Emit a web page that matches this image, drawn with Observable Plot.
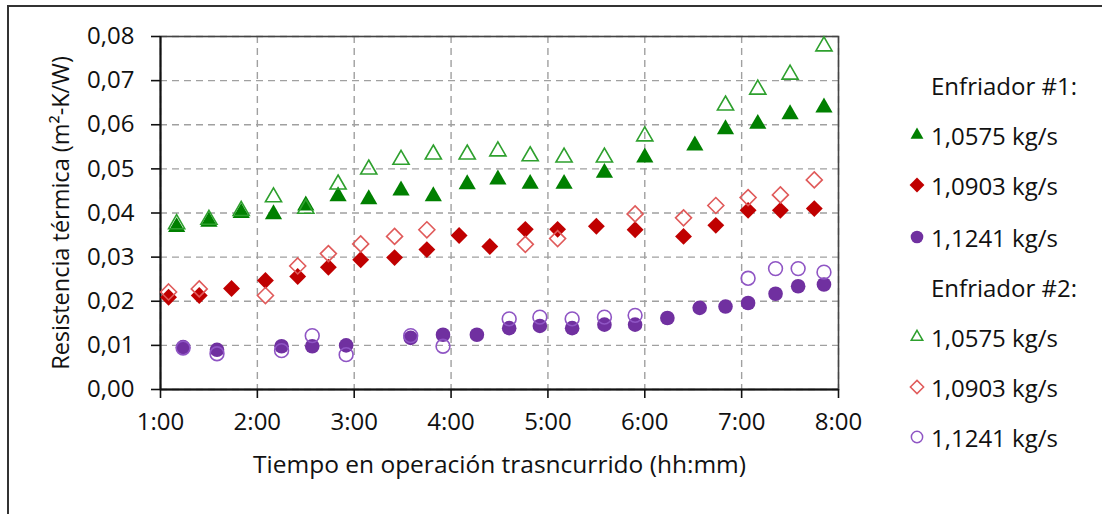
<!DOCTYPE html>
<html>
<head>
<meta charset="utf-8">
<script src="https://cdn.jsdelivr.net/npm/d3@7"></script>
<script src="https://cdn.jsdelivr.net/npm/@observablehq/plot@0.6"></script>
<style>
  html, body { margin: 0; padding: 0; background: #fff; }
  body { width: 1102px; height: 514px; overflow: hidden; position: relative; font-family: "Open Sans", sans-serif; }
  #border { position: absolute; left: 7px; top: 5px; width: 1200px; height: 700px; border: 2px solid #333; box-sizing: border-box; }
  #chart { position: absolute; left: 0; top: 0; }
  #legend { position: absolute; left: 0; top: 0; width: 1102px; height: 514px; pointer-events: none; }
  .lg-row { position: absolute; left: 907px; height: 30px; display: flex; align-items: center; font-size: 24px; color: #111; white-space: nowrap; }
  .lg-row svg { width: 20px; height: 20px; margin-right: 4px; }
  .lg-head { padding-left: 24px; }
</style>
</head>
<body>
<div id="border"></div>
<div id="chart"></div>
<div id="legend"></div>
<script>
// ---- Data (times in minutes of elapsed operation, values in m²·K/W) ----
const xTicks = [60, 120, 180, 240, 300, 360, 420, 480];
const xTickLabels = ["1:00", "2:00", "3:00", "4:00", "5:00", "6:00", "7:00", "8:00"];
const yTicks = [0, 0.01, 0.02, 0.03, 0.04, 0.05, 0.06, 0.07, 0.08];
const yTickLabels = ["0,00", "0,01", "0,02", "0,03", "0,04", "0,05", "0,06", "0,07", "0,08"];

const seriesNames = ["1,0575 kg/s", "1,0903 kg/s", "1,1241 kg/s"];
const groupNames = ["Enfriador #1:", "Enfriador #2:"];

// 1,0575 kg/s
const tA = [70, 90, 110, 130, 150, 170, 189, 209, 229, 250, 269, 289, 310, 335, 360, 391, 410, 430, 450, 471];
const rA1 = [0.0368, 0.0380, 0.0400, 0.0397, 0.0417, 0.0438, 0.0431, 0.0451, 0.0438, 0.0465, 0.0476, 0.0466, 0.0466, 0.0491, 0.0526, 0.0553, 0.0590, 0.0602, 0.0624, 0.0639];
const rA2 = [0.0375, 0.0385, 0.0405, 0.0436, 0.0410, 0.0465, 0.0499, 0.0521, 0.0533, 0.0533, 0.0540, 0.0529, 0.0526, 0.0526, 0.0574, null, 0.0644, 0.0680, 0.0714, 0.0778];

// 1,0903 kg/s
const tB = [65, 84, 104, 125, 145, 164, 184, 205, 225, 245, 264, 286, 306, 330, 354, 384, 404, 424, 444, 465];
const rB1 = [0.0209, 0.0213, 0.0229, 0.0247, 0.0256, 0.0277, 0.0294, 0.0299, 0.0317, 0.0349, 0.0324, 0.0363, 0.0363, 0.0370, 0.0362, 0.0347, 0.0372, 0.0406, 0.0406, 0.0410];
const rB2 = [0.0221, 0.0228, null, 0.0213, 0.0280, 0.0308, 0.0330, 0.0347, 0.0362, null, null, 0.0329, 0.0342, null, 0.0398, 0.0389, 0.0417, 0.0435, 0.0441, 0.0475];

// 1,1241 kg/s
const tC = [74, 95, 135, 154, 175, 215, 235, 256, 276, 295, 315, 335, 354, 374, 394, 410, 424, 441, 455, 471];
const rC1 = [0.0096, 0.0090, 0.0098, 0.0098, 0.0100, 0.0117, 0.0124, 0.0124, 0.0139, 0.0144, 0.0139, 0.0147, 0.0147, 0.0162, 0.0185, 0.0188, 0.0196, 0.0217, 0.0234, 0.0238];
const rC2 = [0.0094, 0.0081, 0.0088, 0.0122, 0.0079, 0.0122, 0.0098, null, 0.0160, 0.0164, 0.0160, 0.0164, 0.0168, null, null, null, 0.0252, 0.0274, 0.0274, 0.0266];

// ---- styles ----
const colFill = ["#008000", "#c00000", "#7030a0"];
const colOpen = ["#2ea02e", "#e05a5a", "#8f55c4"];
const symbols = ["triangle", "diamond2", "circle"];
const radii = [6.4, 7.6, 7.3];

const toRows = (t, v) => t.map((x, i) => ({x, y: v[i]})).filter(d => d.y != null);
const sets1 = [toRows(tA, rA1), toRows(tB, rB1), toRows(tC, rC1)];
const sets2 = [toRows(tA, rA2), toRows(tB, rB2), toRows(tC, rC2)];

const W = 1102, H = 514;
const ML = 160, MR = W - 838, MT = 36, MB = H - 389;
const FONT = "Open Sans";
const FS = 24;

const marks = [
  Plot.gridX(xTicks, {stroke: "#a0a0a0", strokeOpacity: 1, strokeWidth: 1.4, strokeDasharray: "7,5"}),
  Plot.gridY(yTicks, {stroke: "#a0a0a0", strokeOpacity: 1, strokeWidth: 1.4, strokeDasharray: "7,5"}),
  Plot.frame({stroke: "#444", strokeWidth: 1.6}),
  Plot.axisX(xTicks, {tickFormat: (d) => xTickLabels[xTicks.indexOf(d)], tickSize: 9, tickPadding: 14, strokeWidth: 1.6, stroke: "#111", label: null, fontSize: FS}),
  Plot.axisY(yTicks, {tickFormat: (d) => yTickLabels[yTicks.indexOf(d)], tickSize: 9, tickPadding: 17, strokeWidth: 1.6, stroke: "#111", label: null, fontSize: FS}),
  Plot.ruleY([0], {stroke: "#111", strokeWidth: 2}),
  Plot.ruleX([60], {stroke: "#111", strokeWidth: 2})
];
for (let k = 0; k < 3; k++) {
  marks.push(Plot.dot(sets1[k], {x: "x", y: "y", symbol: () => symbols[k], r: radii[k], fill: colFill[k], stroke: "none"}));
}
for (let k = 0; k < 3; k++) {
  marks.push(Plot.dot(sets2[k], {x: "x", y: "y", symbol: () => symbols[k], r: radii[k] - 0.4, fill: "none", stroke: colOpen[k], strokeWidth: 1.6}));
}
marks.push(
  Plot.text([0], {frameAnchor: "bottom", dy: 76, text: () => "Tiempo en operación trasncurrido (hh:mm)", fontSize: FS + 0.5, fill: "#111", textAnchor: "middle", lineAnchor: "middle"}),
  Plot.text([0], {frameAnchor: "left", dx: -99, rotate: -90, text: () => "Resistencia térmica (m²-K/W)", fontSize: 23.5, fill: "#111", textAnchor: "middle", lineAnchor: "middle"})
);

const chart = Plot.plot({
  width: W, height: H,
  marginLeft: ML, marginRight: MR, marginTop: MT, marginBottom: MB,
  style: {fontFamily: FONT, fontSize: FS + "px", color: "#111", background: "transparent", overflow: "visible"},
  x: {domain: [60, 480], axis: null},
  y: {domain: [0, 0.08], axis: null},
  symbol: {type: "identity"},
  marks
});
document.getElementById("chart").appendChild(chart);

// ---- legend (HTML, using d3 symbols) ----
const legend = document.getElementById("legend");
const symMap = {triangle: d3.symbolTriangle, diamond2: d3.symbolDiamond2, circle: d3.symbolCircle};
const lgSizes = [72, 140, 125];
const rowYs = [85, 135, 185, 237, 287, 337, 387, 437];
let r = 0;
for (let g = 0; g < 2; g++) {
  const head = document.createElement("div");
  head.className = "lg-row lg-head";
  head.style.top = (rowYs[r++] - 15) + "px";
  head.textContent = groupNames[g];
  legend.appendChild(head);
  for (let k = 0; k < 3; k++) {
    const row = document.createElement("div");
    row.className = "lg-row";
    row.style.top = (rowYs[r++] - 15) + "px";
    const path = d3.symbol(symMap[symbols[k]], lgSizes[k] * (g === 0 ? 1 : 0.8))();
    const fill = g === 0 ? colFill[k] : "none";
    const stroke = g === 0 ? "none" : colOpen[k];
    row.innerHTML = `<svg viewBox="-10 -10 20 20"><path d="${path}" fill="${fill}" stroke="${stroke}" stroke-width="1.5"/></svg><span>${seriesNames[k]}</span>`;
    legend.appendChild(row);
  }
}
</script>
</body>
</html>
